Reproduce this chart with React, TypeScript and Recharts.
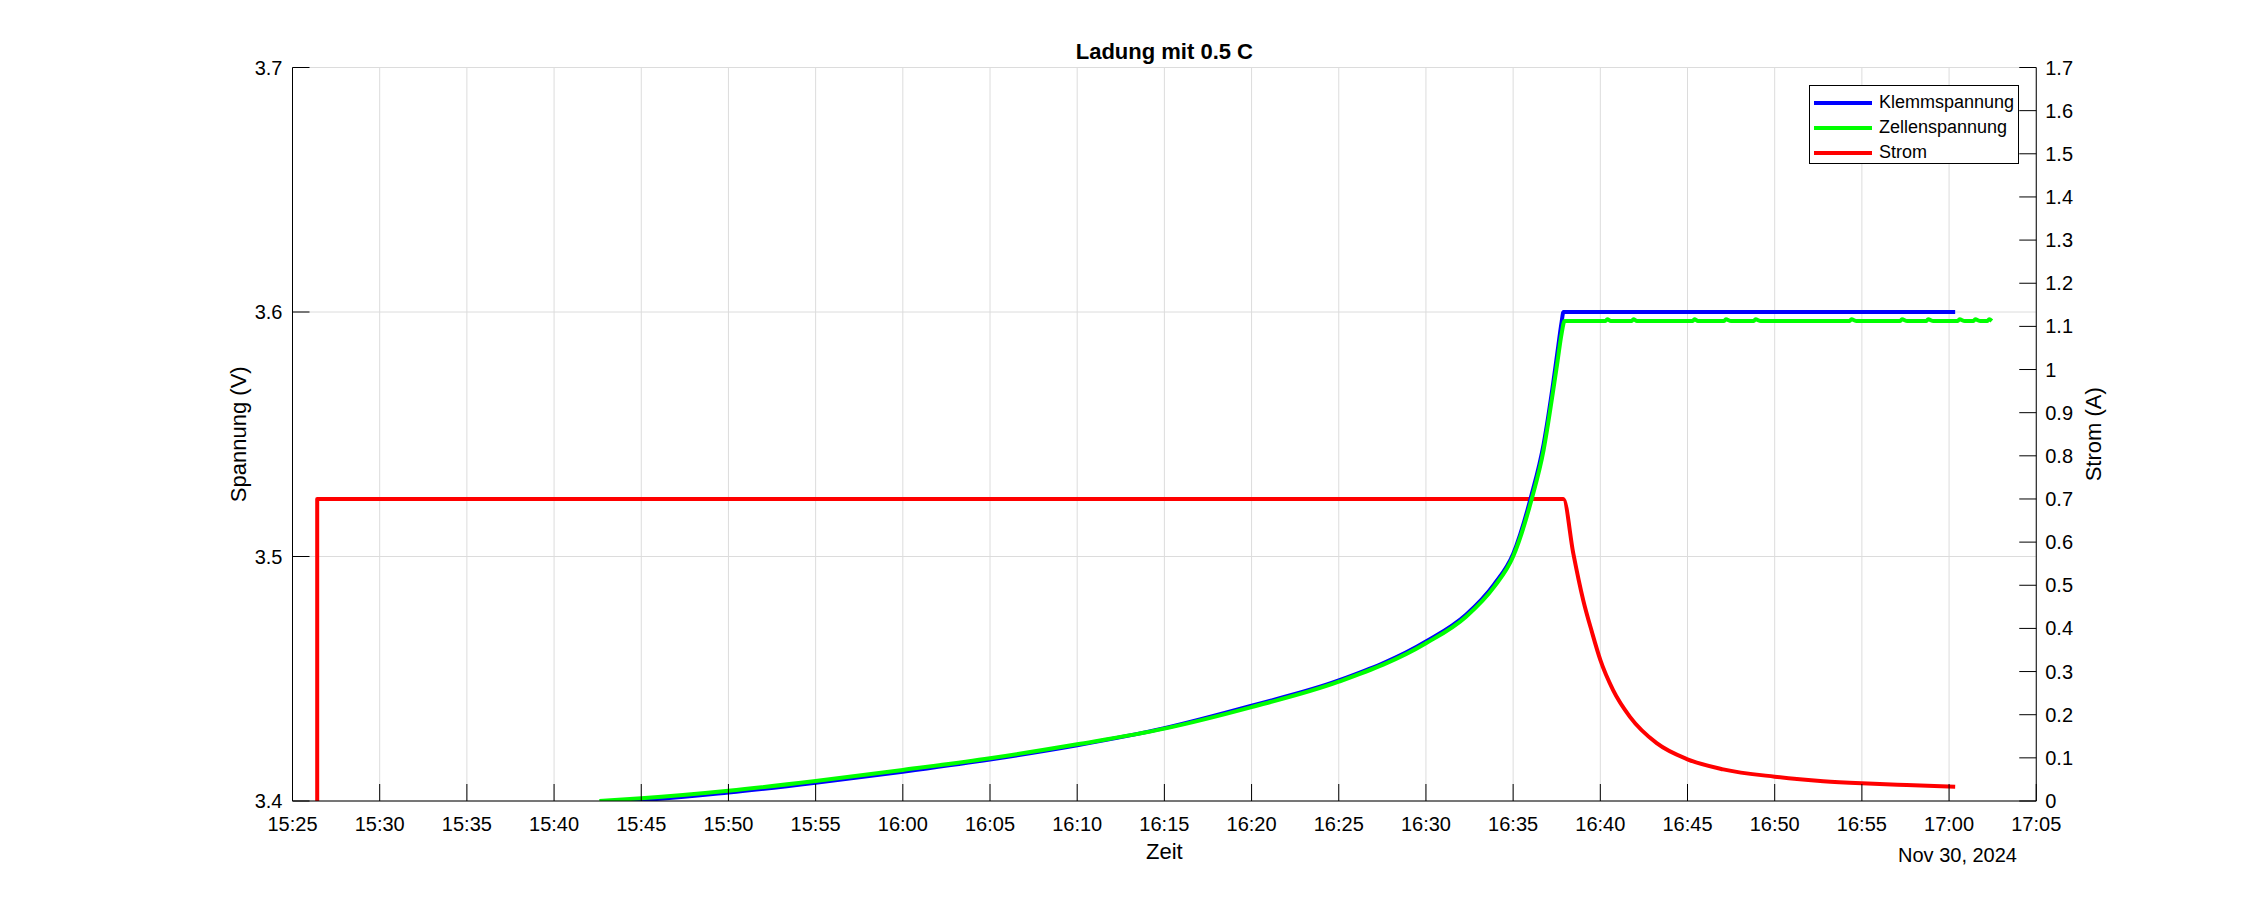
import React from "react";
import { LineChart, Line, XAxis, YAxis, CartesianGrid, Legend } from "recharts";

// ---------- data ----------
const xTickLabels = ["15:25","15:30","15:35","15:40","15:45","15:50","15:55","16:00","16:05","16:10","16:15","16:20","16:25","16:30","16:35","16:40","16:45","16:50","16:55","17:00","17:05"];
const voltTicks = [3.4, 3.5, 3.6, 3.7];
const voltTickLabels = ["3.4", "3.5", "3.6", "3.7"];
const currentTicks = [0,0.1,0.2,0.3,0.4,0.5,0.6,0.7,0.8,0.9,1,1.1,1.2,1.3,1.4,1.5,1.6,1.7];
const currentTickLabels = ["0","0.1","0.2","0.3","0.4","0.5","0.6","0.7","0.8","0.9","1","1.1","1.2","1.3","1.4","1.5","1.6","1.7"];

const klemmTimes = ["15:43:48","15:45:00","15:50:00","15:55:00","16:00:00","16:05:00","16:10:00","16:15:00","16:20:00","16:25:00","16:30:00","16:32:18","16:33:54","16:35:00","16:36:03","16:36:45","16:37:18","16:37:33","16:37:47","16:37:53","17:00:21"];
const klemmValues = [3.4,3.4004,3.4035,3.4075,3.412,3.417,3.4228,3.4298,3.439,3.4493,3.4652,3.4762,3.4885,3.501,3.525,3.546,3.571,3.584,3.596,3.6,3.6];

const zellTimes = ["15:42:36","15:45:00","15:50:00","15:55:00","16:00:00","16:05:00","16:10:00","16:15:00","16:20:00","16:25:00","16:30:00","16:32:18","16:33:54","16:35:00","16:36:03","16:36:45","16:37:18","16:37:33","16:37:47","16:37:57",
  "16:40:18","16:40:24","16:40:36","16:41:48","16:41:54","16:42:06","16:45:18","16:45:24","16:45:36","16:47:06","16:47:12","16:47:30","16:48:48","16:48:54","16:49:12","16:54:18","16:54:24","16:54:42","16:57:12","16:57:18","16:57:36","16:58:42","16:58:48","16:59:06","17:00:30","17:00:36","17:00:54","17:01:24","17:01:30","17:01:48","17:02:12","17:02:18","17:02:27"];
const zellValues = [3.4,3.4011,3.4042,3.4082,3.4127,3.4175,3.4232,3.4296,3.4384,3.4488,3.4645,3.4754,3.4875,3.5,3.5231,3.5436,3.568,3.58,3.5913,3.5963,
  3.5963,3.597,3.5963,3.5963,3.597,3.5963,3.5963,3.597,3.5963,3.5963,3.597,3.5963,3.5963,3.597,3.5963,3.5963,3.597,3.5963,3.5963,3.597,3.5963,3.5963,3.597,3.5963,3.5963,3.597,3.5963,3.5963,3.597,3.5963,3.5963,3.597,3.5963];

const stromTimes = ["15:26:25","15:26:25","16:37:53","16:38:27","16:39:01","16:39:31","16:40:00","16:40:44","16:41:42","16:43:14","16:45:00","16:47:03","16:50:00","16:52:47","16:55:00","16:57:34","17:00:21"];
const stromValues = [0,0.7,0.7,0.574,0.466,0.392,0.327,0.257,0.195,0.134,0.0966,0.0734,0.0564,0.046,0.041,0.037,0.033];

const seriesNames = ["Klemmspannung", "Zellenspannung", "Strom"];
const seriesColors = ["#0000ff", "#00ff00", "#ff0000"];

// ---------- helpers ----------
const toMin = (s: string) => {
  const [h, m, sec] = s.split(":").map(Number);
  return h * 60 + m + (sec || 0) / 60;
};
const build = (times: string[], values: number[]) => times.map((t, i) => ({ t: toMin(t), v: values[i] }));

const klemmData = build(klemmTimes, klemmValues);
const zellData = build(zellTimes, zellValues);
const stromData = build(stromTimes, stromValues);
const xTicks = xTickLabels.map(toMin);

const FONT = '"Liberation Sans", Arial, Helvetica, sans-serif';
const W = 2250, H = 900;
const PLOT_L = 292.5, PLOT_R = 2036.25, PLOT_T = 67.5, PLOT_B = 801;
const YW = 60, XH = 40;
const TICK_LEN = 17;

const BottomTick = (props: any) => {
  const { x, y, index } = props;
  return (
    <g>
      <line x1={x} x2={x} y1={y} y2={y - TICK_LEN} stroke="#000" strokeWidth={1} />
      <text x={x} y={y + 30} textAnchor="middle" fontFamily={FONT} fontSize={20} fill="#000">{xTickLabels[index]}</text>
    </g>
  );
};
const LeftTick = (props: any) => {
  const { x, y, index } = props;
  return (
    <g>
      <line x1={x} x2={x + TICK_LEN} y1={y} y2={y} stroke="#000" strokeWidth={1} />
      <text x={x - 10} y={y} dy="0.35em" textAnchor="end" fontFamily={FONT} fontSize={20} fill="#000">{voltTickLabels[index]}</text>
    </g>
  );
};
const RightTick = (props: any) => {
  const { x, y, index } = props;
  return (
    <g>
      <line x1={x - TICK_LEN} x2={x} y1={y} y2={y} stroke="#000" strokeWidth={1} />
      <text x={x + 9} y={y} dy="0.35em" textAnchor="start" fontFamily={FONT} fontSize={20} fill="#000">{currentTickLabels[index]}</text>
    </g>
  );
};

const LegendBox = () => (
  <div style={{ width: 210, height: 79, border: "1px solid #000", background: "#fff", boxSizing: "border-box", position: "relative", fontFamily: FONT }}>
    {seriesNames.map((n, i) => (
      <div key={n} style={{ position: "absolute", left: 4, top: 4 + i * 25, height: 25, display: "flex", alignItems: "center" }}>
        <div style={{ width: 58, height: 4, background: seriesColors[i], marginRight: 7 }} />
        <span style={{ fontSize: 18, color: "#000", lineHeight: "25px", whiteSpace: "nowrap" }}>{n}</span>
      </div>
    ))}
  </div>
);

export default function App() {
  return (
    <div style={{ position: "absolute", left: 0, top: 0, width: W, height: H, background: "#fff" }}>
      <LineChart
        width={W}
        height={H}
        margin={{ top: PLOT_T, left: PLOT_L - YW, right: W - PLOT_R - YW, bottom: H - PLOT_B - XH }}
      >
        <CartesianGrid yAxisId="v" stroke="#dcdcdc" strokeWidth={1} />
        <XAxis
          dataKey="t"
          type="number"
          domain={[xTicks[0], xTicks[xTicks.length - 1]]}
          ticks={xTicks}
          interval={0}
          height={XH}
          tickSize={0}
          tickMargin={0}
          tickLine={false}
          axisLine={{ stroke: "#000", strokeWidth: 1 }}
          tick={<BottomTick />}
          allowDataOverflow
        />
        <YAxis
          yAxisId="v"
          orientation="left"
          type="number"
          domain={[3.4, 3.7]}
          ticks={voltTicks}
          interval={0}
          width={YW}
          tickSize={0}
          tickMargin={0}
          tickLine={false}
          axisLine={{ stroke: "#000", strokeWidth: 1 }}
          tick={<LeftTick />}
          allowDataOverflow
        />
        <YAxis
          yAxisId="a"
          orientation="right"
          type="number"
          domain={[0, 1.7]}
          ticks={currentTicks}
          interval={0}
          width={YW}
          tickSize={0}
          tickMargin={0}
          tickLine={false}
          axisLine={{ stroke: "#000", strokeWidth: 1 }}
          tick={<RightTick />}
          allowDataOverflow
        />
        <Legend
          layout="vertical"
          align="center"
          verticalAlign="middle"
          content={() => <LegendBox />}
          wrapperStyle={{ position: "absolute", left: 1809, top: 85, width: 210, height: 79 }}
        />
        <Line yAxisId="a" data={stromData} dataKey="v" name="Strom" stroke={seriesColors[2]} strokeWidth={4} dot={false} isAnimationActive={false} type="monotoneX" strokeLinejoin="round" />
        <Line yAxisId="v" data={klemmData} dataKey="v" name="Klemmspannung" stroke={seriesColors[0]} strokeWidth={4} dot={false} isAnimationActive={false} type="monotoneX" strokeLinejoin="round" />
        <Line yAxisId="v" data={zellData} dataKey="v" name="Zellenspannung" stroke={seriesColors[1]} strokeWidth={4} dot={false} isAnimationActive={false} type="monotoneX" strokeLinejoin="round" />
      </LineChart>
      <svg width={W} height={H} style={{ position: "absolute", left: 0, top: 0, pointerEvents: "none" }}>
        <text x={(PLOT_L + PLOT_R) / 2} y={59} textAnchor="middle" fontFamily={FONT} fontSize={22} fontWeight="bold" fill="#000">Ladung mit 0.5 C</text>
        <text x={(PLOT_L + PLOT_R) / 2} y={859} textAnchor="middle" fontFamily={FONT} fontSize={22} fill="#000">Zeit</text>
        <text x={2017} y={862} textAnchor="end" fontFamily={FONT} fontSize={20} fill="#000">Nov 30, 2024</text>
        <text transform={`translate(246, ${(PLOT_T + PLOT_B) / 2}) rotate(-90)`} textAnchor="middle" fontFamily={FONT} fontSize={22} fill="#000">Spannung (V)</text>
        <text transform={`translate(2101, ${(PLOT_T + PLOT_B) / 2}) rotate(-90)`} textAnchor="middle" fontFamily={FONT} fontSize={22} fill="#000">Strom (A)</text>
      </svg>
    </div>
  );
}
